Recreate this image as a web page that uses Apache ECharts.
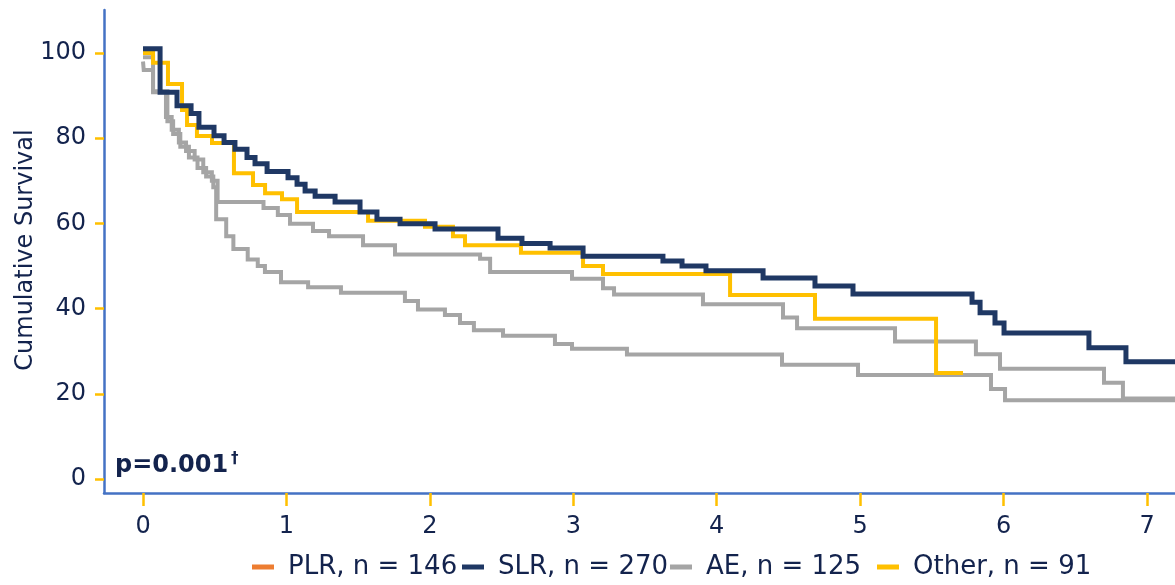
<!DOCTYPE html>
<html>
<head>
<meta charset="utf-8">
<script src="https://cdn.jsdelivr.net/npm/echarts@6/dist/echarts.min.js"></script>
<style>
  html, body { margin: 0; padding: 0; background: #ffffff; }
  #chart { width: 1175px; height: 585px; }
</style>
</head>
<body>
<div id="chart"></div>
<script>
// Kaplan-Meier style step curves: each group is a list of event times (years)
// and the cumulative survival (%) that holds from that time onwards.
const xTicks = [0, 1, 2, 3, 4, 5, 6, 7];
const yTicks = [0, 20, 40, 60, 80, 100];

const groupNames = ['PLR, n = 146', 'SLR, n = 270', 'AE, n = 125', 'Other, n = 91'];

const plrTime = [0, 0.005, 0.07, 0.17, 0.21, 0.26, 0.32, 0.38, 0.44, 0.49, 0.51, 0.58, 0.63, 0.73, 0.80, 0.85,
  0.962, 1.151, 1.38, 1.826, 1.917, 2.105, 2.21, 2.307, 2.51, 2.872, 2.991, 3.374, 4.455, 4.985, 5.912, 6.01, 7.3];
const plrSurv = [98, 96, 91, 84, 81, 78, 75.5, 73, 71, 68.5, 61, 57, 54, 51.5, 50, 48.6,
  46.2, 45.0, 43.7, 41.8, 39.8, 38.5, 36.6, 34.9, 33.6, 31.7, 30.6, 29.2, 26.8, 24.4, 21.1, 18.5, 18.5];

const slrTime = [0, 0.119, 0.237, 0.335, 0.39, 0.495, 0.565, 0.641, 0.725, 0.781, 0.865, 1.011, 1.074, 1.13, 1.2,
  1.339, 1.513, 1.631, 1.792, 2.036, 2.475, 2.642, 2.838, 3.068, 3.625, 3.758, 3.925, 4.323, 4.685, 4.95,
  5.78, 5.836, 5.94, 6.003, 6.595, 6.853, 7.3];
const slrSurv = [101, 90.8, 87.6, 85.8, 82.6, 80.6, 79.0, 77.4, 75.5, 74.0, 72.2, 70.7, 69.2, 67.6, 66.4,
  65.0, 62.7, 61.0, 59.9, 58.7, 56.5, 55.3, 54.2, 52.3, 51.2, 50.0, 48.9, 47.2, 45.3, 43.4,
  41.5, 39.0, 36.6, 34.3, 30.8, 27.5, 27.5];

const aeTime = [0, 0.07, 0.16, 0.2, 0.25, 0.3, 0.36, 0.42, 0.48, 0.52, 0.84, 0.94, 1.025, 1.185, 1.297, 1.534,
  1.757, 2.35, 2.42, 2.991, 3.207, 3.284, 3.904, 4.462, 4.56, 5.243, 5.807, 5.975, 6.70, 6.832, 7.3];
const aeSurv = [99, 90.8, 85, 82, 79, 77, 75, 72, 70, 65.0, 63.6, 62.0, 59.9, 58.2, 57.0, 54.9,
  52.7, 51.7, 48.6, 47.0, 44.8, 43.3, 41.0, 37.9, 35.4, 32.3, 29.3, 25.9, 22.6, 18.9, 18.9];

const otherTime = [0, 0.07, 0.174, 0.272, 0.307, 0.376, 0.481, 0.634, 0.767, 0.851, 0.969, 1.074, 1.569, 1.966,
  2.161, 2.245, 2.635, 3.068, 3.207, 4.093, 4.685, 5.529, 5.717];
const otherSurv = [100, 97.7, 92.7, 86.6, 83.1, 80.5, 78.9, 71.8, 69.0, 67.1, 65.7, 62.7, 60.6, 59.2,
  57.0, 54.9, 53.1, 50.0, 48.1, 43.2, 37.6, 24.9, 24.9];

const ink = '#13234D';
const font = 'DejaVu Sans, Verdana, sans-serif';

function pairs(t, s) {
  return t.map((v, i) => [v, s[i]]);
}

function stepSeries(name, t, s, color, width, legendColor) {
  return {
    name: name,
    type: 'line',
    step: 'end',
    data: pairs(t, s),
    symbol: 'none',
    color: legendColor || color,
    lineStyle: { color: color, width: width, join: 'miter', cap: 'butt' },
    emphasis: { disabled: true },
    silent: true
  };
}

function legendAt(name, left, color) {
  return {
    data: [{ name: name, itemStyle: { color: color } }],
    left: left,
    top: 554,
    padding: 0,
    icon: 'rect',
    itemWidth: 22,
    itemHeight: 5,
    selectedMode: false,
    textStyle: { fontSize: 26, fontFamily: font, color: ink, padding: [0, 0, 0, 9] }
  };
}

const chart = echarts.init(document.getElementById('chart'), null, { renderer: 'canvas' });

chart.setOption({
  animation: false,
  backgroundColor: '#ffffff',
  grid: { left: 104, right: 0, top: 10, bottom: 92, containLabel: false },
  xAxis: {
    type: 'value',
    min: -0.272,
    max: 7.195,
    axisLine: { show: true, onZero: false, lineStyle: { color: '#4472C4', width: 2.5 } },
    axisTick: {
      show: true, length: 13, customValues: xTicks,
      lineStyle: { color: '#FFC000', width: 2.5 }
    },
    axisLabel: {
      customValues: xTicks, margin: 22,
      fontSize: 24, fontFamily: font, color: ink
    },
    splitLine: { show: false }
  },
  yAxis: {
    type: 'value',
    min: -3.29,
    max: 110.1,
    axisLine: { show: true, onZero: false, lineStyle: { color: '#4472C4', width: 2.5 } },
    axisTick: {
      show: true, length: 9, customValues: yTicks,
      lineStyle: { color: '#FFC000', width: 2.5 }
    },
    axisLabel: {
      customValues: yTicks, margin: 18,
      fontSize: 24, fontFamily: font, color: ink
    },
    splitLine: { show: false }
  },
  legend: [
    legendAt(groupNames[0], 252, '#ED7D31'),
    legendAt(groupNames[1], 462, '#1F3864'),
    legendAt(groupNames[2], 670, '#A5A5A5'),
    legendAt(groupNames[3], 877, '#FFC000')
  ],
  series: [
    stepSeries(groupNames[0], plrTime, plrSurv, '#A5A5A5', 4, '#ED7D31'),
    stepSeries(groupNames[2], aeTime, aeSurv, '#A5A5A5', 4),
    stepSeries(groupNames[3], otherTime, otherSurv, '#FFC000', 4),
    stepSeries(groupNames[1], slrTime, slrSurv, '#1F3864', 5)
  ],
  graphic: [
    {
      type: 'text',
      x: 26, y: 250,
      rotation: Math.PI / 2,
      style: {
        text: 'Cumulative Survival',
        font: '24px ' + font,
        fill: ink,
        align: 'center',
        verticalAlign: 'middle'
      }
    },
    {
      type: 'text',
      x: 115, y: 466,
      style: {
        text: 'p=0.001',
        font: 'bold 24px ' + font,
        fill: ink,
        align: 'left',
        verticalAlign: 'middle'
      }
    },
    {
      type: 'text',
      x: 231, y: 459,
      style: {
        text: '†',
        font: 'bold 15px ' + font,
        fill: ink,
        align: 'left',
        verticalAlign: 'middle'
      }
    }
  ]
});
</script>
</body>
</html>
